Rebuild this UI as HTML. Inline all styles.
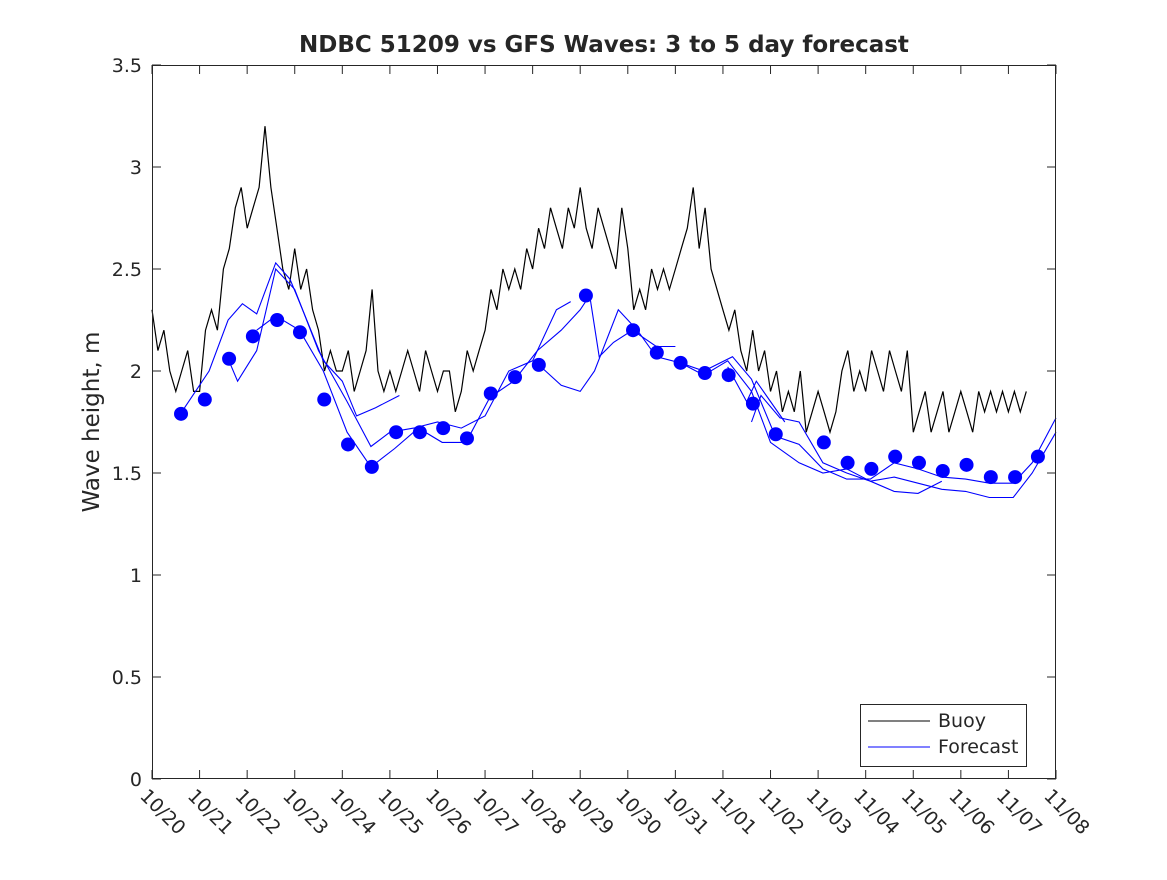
<!DOCTYPE html>
<html><head><meta charset="utf-8"><style>
body{margin:0;background:#fff;}
svg text{font-family:"DejaVu Sans","Liberation Sans",sans-serif;fill:#262626;}
</style></head><body>
<svg id="chart" width="1167" height="875" xmlns="http://www.w3.org/2000/svg">
<rect x="0" y="0" width="1167" height="875" fill="#fff"/>
<text x="604" y="52" text-anchor="middle" font-size="23" font-weight="bold" fill="#000">NDBC 51209 vs GFS Waves: 3 to 5 day forecast</text>
<text transform="translate(99,422) rotate(-90)" text-anchor="middle" font-size="23">Wave height, m</text>
<g id="plot"></g>
<rect x="152.5" y="65.5" width="903" height="713" fill="none" stroke="#262626" stroke-width="1"/>
<g>
<rect x="860.5" y="704.5" width="166" height="62" fill="#fff" stroke="#262626"/>
<line x1="868" y1="721" x2="930" y2="721" stroke="#000"/>
<text x="938" y="727" font-size="19">Buoy</text>
<line x1="868" y1="747" x2="930" y2="747" stroke="#00f"/>
<text x="938" y="753" font-size="19">Forecast</text>
</g>
</svg>
<script>
const xTickLabels=["10/20","10/21","10/22","10/23","10/24","10/25","10/26","10/27","10/28","10/29","10/30","10/31","11/01","11/02","11/03","11/04","11/05","11/06","11/07","11/08"];
const yTicks=[0,0.5,1,1.5,2,2.5,3,3.5];
const yTickLabels=["0","0.5","1","1.5","2","2.5","3","3.5"];
const buoyStep=0.125;
const buoyValues=[
2.3,2.1,2.2,2.0,1.9,2.0,2.1,1.9,
1.9,2.2,2.3,2.2,2.5,2.6,2.8,2.9,
2.7,2.8,2.9,3.2,2.9,2.7,2.5,2.4,
2.6,2.4,2.5,2.3,2.2,2.0,2.1,2.0,
2.0,2.1,1.9,2.0,2.1,2.4,2.0,1.9,
2.0,1.9,2.0,2.1,2.0,1.9,2.1,2.0,
1.9,2.0,2.0,1.8,1.9,2.1,2.0,2.1,
2.2,2.4,2.3,2.5,2.4,2.5,2.4,2.6,
2.5,2.7,2.6,2.8,2.7,2.6,2.8,2.7,
2.9,2.7,2.6,2.8,2.7,2.6,2.5,2.8,
2.6,2.3,2.4,2.3,2.5,2.4,2.5,2.4,
2.5,2.6,2.7,2.9,2.6,2.8,2.5,2.4,
2.3,2.2,2.3,2.1,2.0,2.2,2.0,2.1,
1.9,2.0,1.8,1.9,1.8,2.0,1.7,1.8,
1.9,1.8,1.7,1.8,2.0,2.1,1.9,2.0,
1.9,2.1,2.0,1.9,2.1,2.0,1.9,2.1,
1.7,1.8,1.9,1.7,1.8,1.9,1.7,1.8,
1.9,1.8,1.7,1.9,1.8,1.9,1.8,1.9,
1.8,1.9,1.8,1.9];
const forecastA=[[0.6,1.79],[1.2,2.0],[1.6,2.25],[1.9,2.33],[2.2,2.28],[2.6,2.53],[2.9,2.45],[3.2,2.28],[3.6,2.05],[4.0,1.95],[4.3,1.78],[4.7,1.82],[5.2,1.88]];
const forecastB=[[1.6,2.06],[1.8,1.95],[2.2,2.1],[2.6,2.5],[3.0,2.4],[3.5,2.1],[4.1,1.85],[4.6,1.63],[5.0,1.7],[5.5,1.72],[6.0,1.75],[6.5,1.72],[7.0,1.78],[7.5,2.0],[8.0,2.05],[8.5,2.3],[8.8,2.34]];
const forecastC=[[2.2,2.2],[2.6,2.27],[3.1,2.2],[3.6,2.0],[4.1,1.7],[4.6,1.53],[5.1,1.62],[5.6,1.72],[6.1,1.65],[6.6,1.65],[7.1,1.87],[7.6,1.95],[8.1,2.1],[8.6,2.2],[9.0,2.3],[9.2,2.37],[9.4,2.07],[9.7,2.14],[10.1,2.2],[10.6,2.12],[11.0,2.12]];
const forecastD=[[8.13,2.03],[8.6,1.93],[9.0,1.9],[9.3,2.0],[9.8,2.3],[10.2,2.2],[10.6,2.07],[11.1,2.04],[11.6,2.0],[12.2,2.07],[12.6,1.96],[13.1,1.68],[13.6,1.64],[14.1,1.52],[14.6,1.47],[15.1,1.47],[15.6,1.55],[16.1,1.52],[16.6,1.48],[17.1,1.47],[17.6,1.45],[18.1,1.45],[18.5,1.55],[19,1.77]];
const forecastE=[[11.1,2.04],[11.6,1.98],[12.1,2.05],[12.6,1.9],[13.0,1.65],[13.6,1.55],[14.1,1.5],[14.6,1.52],[15.1,1.46],[15.6,1.48],[16.1,1.45],[16.6,1.42],[17.1,1.41],[17.6,1.38],[18.1,1.38],[18.5,1.5],[19,1.7]];
const forecastF=[[12.6,1.75],[12.8,1.88],[13.2,1.77],[13.6,1.75],[14.1,1.55],[14.6,1.5],[15.1,1.46],[15.6,1.41],[16.1,1.4],[16.6,1.46]];
const forecastG=[[12.1,2.02],[12.5,1.85],[12.7,1.95],[13.3,1.75]];
const markerDays=[0.61,1.11,1.62,2.12,2.63,3.11,3.62,4.12,4.62,5.13,5.63,6.12,6.62,7.12,7.63,8.13,9.12,10.11,10.61,11.11,11.62,12.12,12.63,13.11,14.12,14.62,15.12,15.62,16.12,16.62,17.12,17.63,18.14,18.62];
const markerValues=[1.79,1.86,2.06,2.17,2.25,2.19,1.86,1.64,1.53,1.70,1.70,1.72,1.67,1.89,1.97,2.03,2.37,2.20,2.09,2.04,1.99,1.98,1.84,1.69,1.65,1.55,1.52,1.58,1.55,1.51,1.54,1.48,1.48,1.58];

const X0=152,X1=1056,Y0=779,Y1=65;
const xs=d=>X0+d*(X1-X0)/19;
const ys=v=>Y0-v*(Y0-Y1)/3.5;
const NS="http://www.w3.org/2000/svg";
const plot=document.getElementById('plot');
function mk(tag,attrs,parent){const e=document.createElementNS(NS,tag);for(const k in attrs)e.setAttribute(k,attrs[k]);(parent||plot).appendChild(e);return e;}

xTickLabels.forEach((lab,i)=>{
 const x=xs(i);
 let t=mk('line',{x1:x,y1:Y0,x2:x,y2:Y0-9,stroke:'#262626'});
 
 
 t=mk('line',{x1:x,y1:Y1,x2:x,y2:Y1+9,stroke:'#262626'});
 
 
 const tx=mk('text',{x:0,y:0,'font-size':19,transform:`translate(${x-13},${Y0+18}) rotate(45)`});
 tx.textContent=lab;
 
 
});
yTicks.forEach((v,i)=>{
 const y=ys(v);
 let t=mk('line',{x1:X0,y1:y,x2:X0+9,y2:y,stroke:'#262626'});
 
 
 t=mk('line',{x1:X1,y1:y,x2:X1-9,y2:y,stroke:'#262626'});
 
 
 const tx=mk('text',{x:X0-10,y:y+7,'font-size':19,'text-anchor':'end'});
 tx.textContent=yTickLabels[i];
 
 
});
const bp=buoyValues.map((v,i)=>xs(i*buoyStep).toFixed(1)+','+ys(v).toFixed(1)).join(' ');
const bl=mk('polyline',{points:bp,fill:'none',stroke:'#000','stroke-width':1.2});


[forecastA,forecastB,forecastC,forecastD,forecastE,forecastF,forecastG].forEach(s=>{
 const p=s.map(q=>xs(q[0]).toFixed(1)+','+ys(q[1]).toFixed(1)).join(' ');
 const l=mk('polyline',{points:p,fill:'none',stroke:'#00f','stroke-width':1.1});
 
 
});
markerDays.forEach((d,i)=>{
 const c=mk('circle',{cx:xs(d),cy:ys(markerValues[i]),r:7,fill:'#00f'});
 
 
});
</script>
</body></html>
